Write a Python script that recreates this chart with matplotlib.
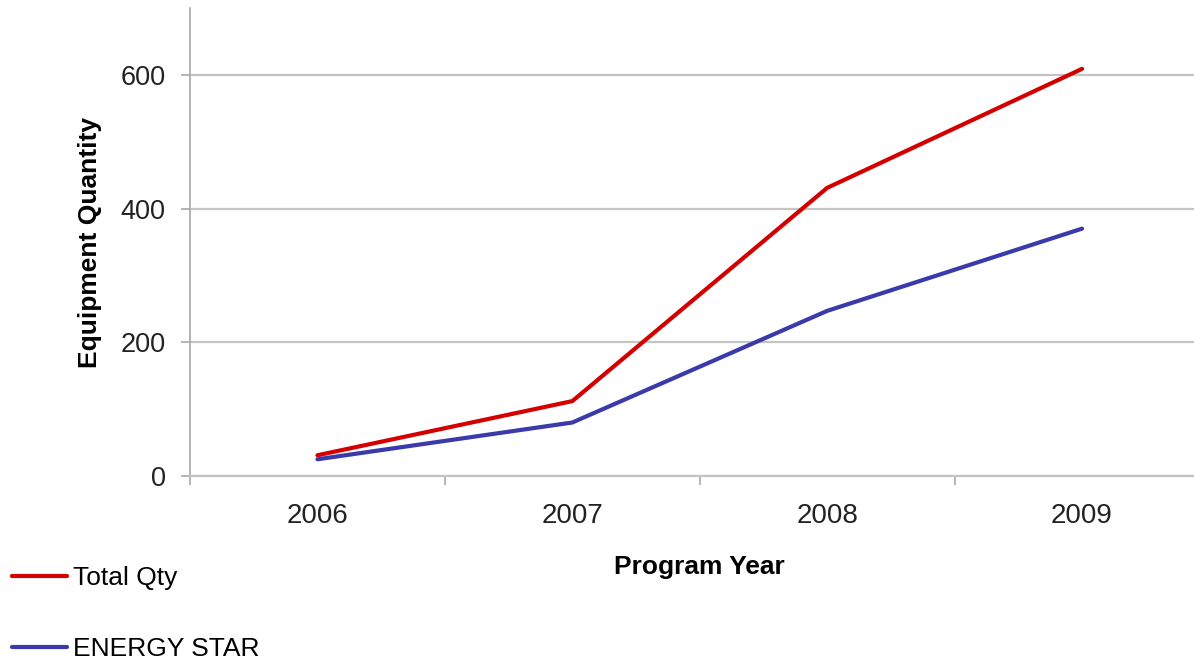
import matplotlib
matplotlib.use("Agg")
import matplotlib.pyplot as plt
import numpy as np

plt.rcParams["font.family"] = ["Liberation Sans", "DejaVu Sans"]

# ---------------------------------------------------------------------------
# Data
# ---------------------------------------------------------------------------
years = ["2006", "2007", "2008", "2009"]
total_qty = [31, 112, 431, 609]
energy_star = [25, 80, 247, 370]

RED = "#d40000"
BLUE = "#3a3aaa"
GRID = "#c4c4c4"
AXIS = "#a8a8a8"

fig = plt.figure(figsize=(11.94, 6.61), dpi=100)
# axes runs a bit past the right edge, as in the source image
ax = fig.add_axes([190 / 1194, 1 - 476 / 661, 1019.5 / 1194, 468 / 661])

x = np.arange(len(years))
ax.plot(x, total_qty, color=RED, lw=3.0, label="Total Qty", solid_capstyle="round")
ax.plot(x, energy_star, color=BLUE, lw=3.0, label="ENERGY STAR", solid_capstyle="round")

ax.set_xlim(-0.5, len(years) - 0.5)
ax.set_ylim(0, 700)

# --- y axis ---
ax.set_yticks([0, 200, 400, 600])
ax.yaxis.grid(True, color=GRID, lw=1.6)
ax.set_axisbelow(True)
ax.tick_params(axis="y", length=6.5, width=1.2, color=AXIS, pad=11,
               labelsize=19.5, labelcolor="#222222")

# --- x axis: marks at category borders, labels at centres ---
ax.set_xticks(np.arange(-0.5, len(years) - 0.5, 1.0))
ax.set_xticklabels([])
ax.tick_params(axis="x", which="major", length=6.5, width=1.2, color=AXIS)
ax.set_xticks(x, minor=True)
ax.set_xticklabels(years, minor=True)
ax.tick_params(axis="x", which="minor", length=0, pad=19.5,
               labelsize=20, labelcolor="#222222")

for side in ["top", "right"]:
    ax.spines[side].set_visible(False)
ax.spines["left"].set_color(AXIS)
ax.spines["left"].set_linewidth(1.2)
ax.spines["bottom"].set_color(GRID)
ax.spines["bottom"].set_linewidth(1.6)

ax.set_ylabel("Equipment Quantity", fontsize=19, fontweight="bold")
ax.yaxis.set_label_coords(-0.086, 0.5)
ax.set_xlabel("Program Year", fontsize=19, fontweight="bold")
ax.xaxis.set_label_coords(0.5, -0.168)

fig.legend(
    loc="upper left", bbox_to_anchor=(4 / 1194, 1 - 558 / 661),
    frameon=False, fontsize=19, handlelength=2.1, handletextpad=0.2,
    labelspacing=1.8, borderaxespad=0, borderpad=0.3,
)

fig.savefig("out.png", dpi=100, facecolor="white")
